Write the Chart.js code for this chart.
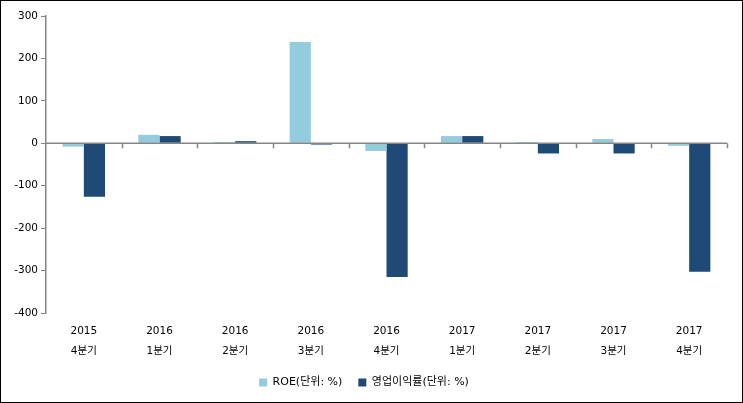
<!DOCTYPE html>
<html>
<head>
<meta charset="utf-8">
<script src="https://cdn.jsdelivr.net/npm/chart.js@4"></script>
<style>
  html, body { margin: 0; padding: 0; background: #fff; }
  #wrap {
    position: absolute; left: 0; top: 0;
    width: 741px; height: 401px;
    border: 1px solid #000;
  }
</style>
</head>
<body>
<div id="wrap"><canvas id="chart" width="741" height="401"></canvas></div>
<script>
// 분기 라벨 (연도, 분기)
const years    = ['2015', '2016', '2016', '2016', '2016', '2017', '2017', '2017', '2017'];
const quarters = ['4분기', '1분기', '2분기', '3분기', '4분기', '1분기', '2분기', '3분기', '4분기'];

// 값 (단위: %)
const roe      = [-8, 20, 3, 239, -18, 17, 3, 10, -6];
const opMargin = [-126, 17, 5, -3, -315, 17, -24, -24, -303];

const yTicks = [300, 200, 100, 0, -100, -200, -300, -400];

const LIGHT = '#93CDDD';
const DARK  = '#1F4A75';
const AXIS  = '#868686';
const FONT  = "'DejaVu Sans', 'Noto Sans CJK KR', sans-serif";

// 0 기준선 + 구분 눈금
const zeroAxis = {
  id: 'zeroAxis',
  afterDatasetsDraw(chart) {
    const { ctx, chartArea, scales } = chart;
    const y0 = scales.y.getPixelForValue(0);
    const step = (chartArea.right - chartArea.left) / years.length;
    ctx.save();
    ctx.strokeStyle = AXIS;
    ctx.lineWidth = 1.5;
    ctx.beginPath();
    ctx.moveTo(chartArea.left, y0);
    ctx.lineTo(chartArea.right, y0);
    for (let i = 1; i <= years.length; i++) {
      const x = Math.round(chartArea.left + step * i) + 0.5;
      ctx.moveTo(x, y0);
      ctx.lineTo(x, y0 + 5);
    }
    ctx.stroke();
    ctx.restore();
  },
};

new Chart(document.getElementById('chart'), {
  type: 'bar',
  data: {
    labels: years.map((y, i) => [y, quarters[i]]),
    datasets: [
      { label: 'ROE(단위: %)', data: roe, backgroundColor: LIGHT },
      { label: '영업이익률(단위: %)', data: opMargin, backgroundColor: DARK },
    ],
  },
  options: {
    responsive: false,
    animation: false,
    devicePixelRatio: 1,
    layout: { padding: { left: 0, right: 15, top: 15, bottom: 4 } },
    datasets: {
      bar: { categoryPercentage: 0.56, barPercentage: 1 },
    },
    plugins: {
      legend: {
        position: 'bottom',
        labels: {
          boxWidth: 8,
          boxHeight: 8,
          padding: 16,
          color: '#000',
          font: { family: FONT, size: 11 },
        },
      },
      tooltip: { enabled: false },
    },
    scales: {
      x: {
        afterFit: (s) => { s.height = 48; },
        grid: { display: false, drawTicks: false },
        border: { display: false },
        ticks: {
          color: '#000',
          padding: 8,
          maxRotation: 0,
          font: { family: FONT, size: 10.5, lineHeight: 1.9 },
        },
      },
      y: {
        min: -400,
        max: 300,
        afterFit: (s) => { s.width = 45; },
        afterBuildTicks: (s) => { s.ticks = yTicks.map((v) => ({ value: v })); },
        grid: { drawOnChartArea: false, drawTicks: true, tickLength: 5, color: AXIS },
        border: { color: AXIS, width: 1.5 },
        ticks: {
          color: '#000',
          padding: 3,
          font: { family: FONT, size: 10.5 },
        },
      },
    },
  },
  plugins: [zeroAxis],
});
</script>
</body>
</html>
